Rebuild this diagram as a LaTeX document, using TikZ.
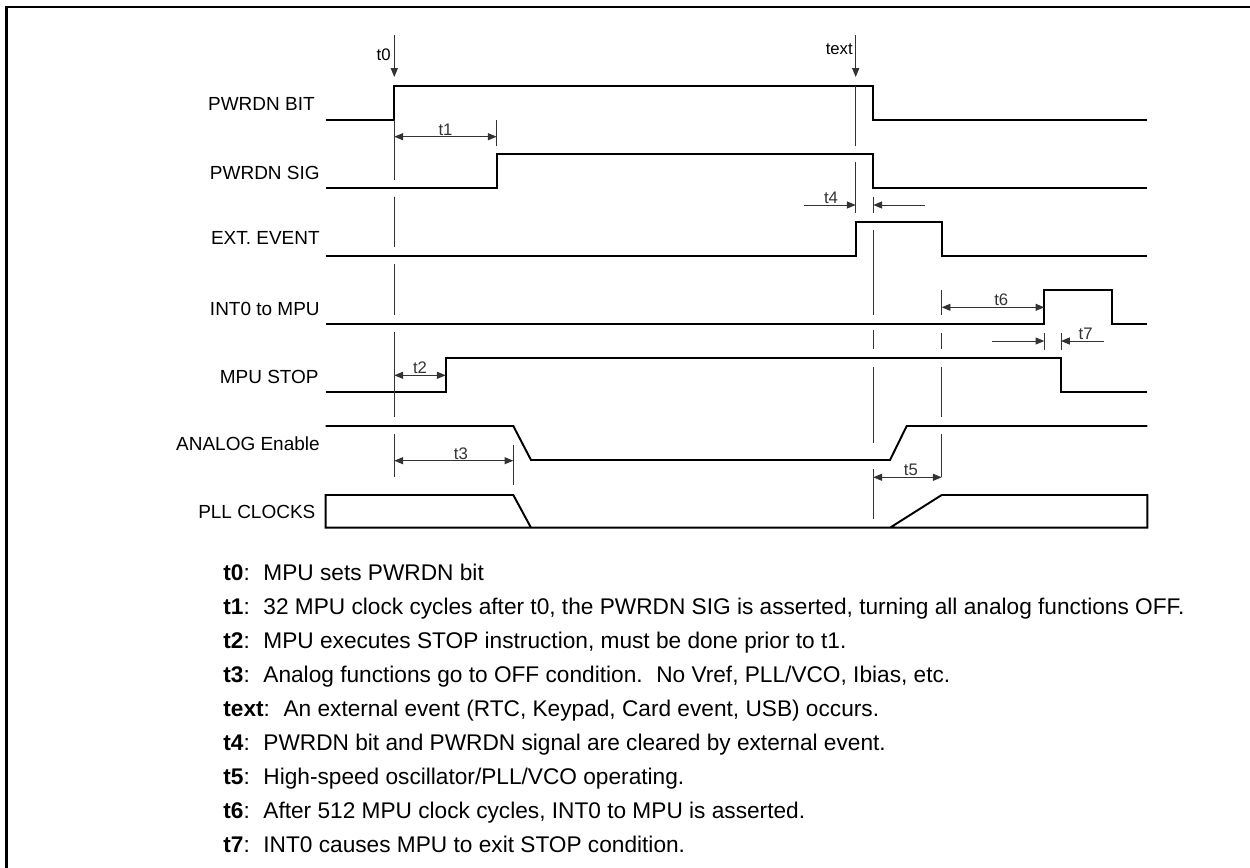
\documentclass[tikz,border=0pt]{standalone}
\usepackage{fontspec}
\setmainfont{Liberation Sans}
\usetikzlibrary{arrows.meta}

\begin{document}
\begin{tikzpicture}[x=0.2mm, y=-0.2mm,
  >={Triangle[length=5pt,width=4pt]},
  signal/.style={line width=1.1pt, line join=miter},
  guide/.style={line width=0.55pt, black!80},
  measure/.style={guide, <->},
  tlabel/.style={font=\fontsize{9.5}{11}\selectfont, inner sep=0pt, anchor=base, yshift=0.8pt},
  rowlabel/.style={font=\fontsize{10.8}{13}\selectfont, inner sep=0pt, anchor=east},
  noteline/.style={font=\fontsize{12.9}{15}\selectfont, inner sep=0pt, anchor=base west}]
\useasboundingbox (0,0) rectangle (1250,867);
% Frame, cut off at the right and at the bottom
\draw[line width=1.4pt] (6.5,890) -- (6.5,7) -- (1270,7);
% Event arrows
\draw[guide,->] (394.3,35) -- (394.3,77);
\node[tlabel, anchor=base east, yshift=0pt] (lt0) at (391,61.7) {t0};
\draw[guide,->] (855.7,35) -- (855.7,77);
\node[tlabel, anchor=base east, yshift=0pt] (ltext) at (853,56) {text};
% Row labels
\node[rowlabel] (bit) at (315,104.3) {PWRDN BIT};
\node[rowlabel] (sig) at (320,172.7) {PWRDN SIG};
\node[rowlabel] (ext) at (320,238.3) {EXT. EVENT};
\node[rowlabel] (int) at (320,309) {INT0 to MPU};
\node[rowlabel] (stop) at (319,377.3) {MPU STOP};
\node[rowlabel] (ana) at (320,443.3) {ANALOG Enable};
\node[rowlabel] (pll) at (315.7,512.3) {PLL CLOCKS};
% PWRDN BIT
\draw[signal] (325.7,120) -- (394.3,120) -- (394.3,86) -- (873.3,86) -- (873.3,120) -- (1147.3,120);
% PWRDN SIG
\draw[signal] (325.7,188.3) -- (496.7,188.3) -- (496.7,154) -- (873.3,154) -- (873.3,188.3) -- (1147.3,188.3);
% EXT. EVENT
\draw[signal] (325.7,256) -- (855.7,256) -- (855.7,221.7) -- (941.7,221.7) -- (941.7,256) -- (1147.3,256);
% INT0 to MPU
\draw[signal] (325.7,324) -- (1044.3,324) -- (1044.3,290) -- (1112.3,290) -- (1112.3,324) -- (1147.3,324);
% MPU STOP
\draw[signal] (325.7,392) -- (445.7,392) -- (445.7,358) -- (1061,358) -- (1061,392) -- (1147.3,392);
% ANALOG Enable
\draw[signal] (325.7,426) -- (513.3,426) -- (531,460) -- (890,460) -- (906.7,426) -- (1147.3,426);
% PLL CLOCKS
\draw[signal] (531,527.7) -- (513.3,495) -- (325.7,495) -- (325.7,527.7) -- (1147.3,527.7) -- (1147.3,495) -- (941.7,495) -- (890,527.7);
% Guide line at t0
\draw[guide] (394.3,120) -- (394.3,180);
\draw[guide] (394.3,196.7) -- (394.3,247.3);
\draw[guide] (394.3,264.3) -- (394.3,315);
\draw[guide] (394.3,332.3) -- (394.3,416.7);
\draw[guide] (394.3,434.3) -- (394.3,477.3);
% Guide line at text
\draw[guide] (855.7,86) -- (855.7,145.7);
\draw[guide] (855.7,162.3) -- (855.7,213.3);
% Guide line at t4
\draw[guide] (873.3,196.7) -- (873.3,213.3);
\draw[guide] (873.3,230) -- (873.3,315);
\draw[guide] (873.3,330) -- (873.3,349);
\draw[guide] (873.3,366.7) -- (873.3,442.7);
\draw[guide] (873.3,469) -- (873.3,519.3);
% Guide line at end of EXT. EVENT
\draw[guide] (941.7,290) -- (941.7,315);
\draw[guide] (941.7,333.3) -- (941.7,349);
\draw[guide] (941.7,366.7) -- (941.7,416.7);
\draw[guide] (941.7,434.3) -- (941.7,476.7);
% Short ticks
\draw[guide] (496.7,120) -- (496.7,145.7);
\draw[guide] (513.3,445) -- (513.3,485);
\draw[guide] (1044.3,333.3) -- (1044.3,350);
\draw[guide] (1061,333.3) -- (1061,350);
% Time spans
\draw[measure] (394.3,136.7) -- node[tlabel] (lt1) {t1} (496.7,136.7);
\draw[measure] (394.3,375.3) -- node[tlabel] (lt2) {t2} (445.7,375.3);
\draw[measure] (394.3,460.7) -- node[tlabel, pos=.56] (lt3) {t3} (513.3,460.7);
\draw[measure] (873.3,477.3) -- node[tlabel, pos=.55] (lt5) {t5} (941.7,477.3);
\draw[measure] (941.7,307.3) -- node[tlabel, pos=.58] (lt6) {t6} (1044.3,307.3);
% t4 and t7, arrows from outside
\draw[guide,->] (804.3,205) -- node[tlabel, pos=.52] (lt4) {t4} (855.7,205);
\draw[guide,->] (925,205) -- (873.3,205);
\draw[guide,->] (992.3,341) -- (1044.3,341);
\draw[guide,->] (1104.3,341) -- node[tlabel, pos=.43] (lt7) {t7} (1061,341);
% Notes
\node[noteline] (n0) at (223,580) {\textbf{t0}:\hspace{0.6em}MPU sets PWRDN bit};
\node[noteline] (n1) at (223,614.1) {\textbf{t1}:\hspace{0.6em}32 MPU clock cycles after t0, the PWRDN SIG is asserted, turning all analog functions OFF.};
\node[noteline] (n2) at (223,648.2) {\textbf{t2}:\hspace{0.6em}MPU executes STOP instruction, must be done prior to t1.};
\node[noteline] (n3) at (223,682.3) {\textbf{t3}:\hspace{0.6em}Analog functions go to OFF condition.\hspace{0.6em}No Vref, PLL/VCO, Ibias, etc.};
\node[noteline] (n4) at (223,716.4) {\textbf{text}:\hspace{0.6em}An external event (RTC, Keypad, Card event, USB) occurs.};
\node[noteline] (n5) at (223,750.5) {\textbf{t4}:\hspace{0.6em}PWRDN bit and PWRDN signal are cleared by external event.};
\node[noteline] (n6) at (223,784.6) {\textbf{t5}:\hspace{0.6em}High-speed oscillator/PLL/VCO operating.};
\node[noteline] (n7) at (223,818.7) {\textbf{t6}:\hspace{0.6em}After 512 MPU clock cycles, INT0 to MPU is asserted.};
\node[noteline] (n8) at (223,852.8) {\textbf{t7}:\hspace{0.6em}INT0 causes MPU to exit STOP condition.};
\end{tikzpicture}
\end{document}
